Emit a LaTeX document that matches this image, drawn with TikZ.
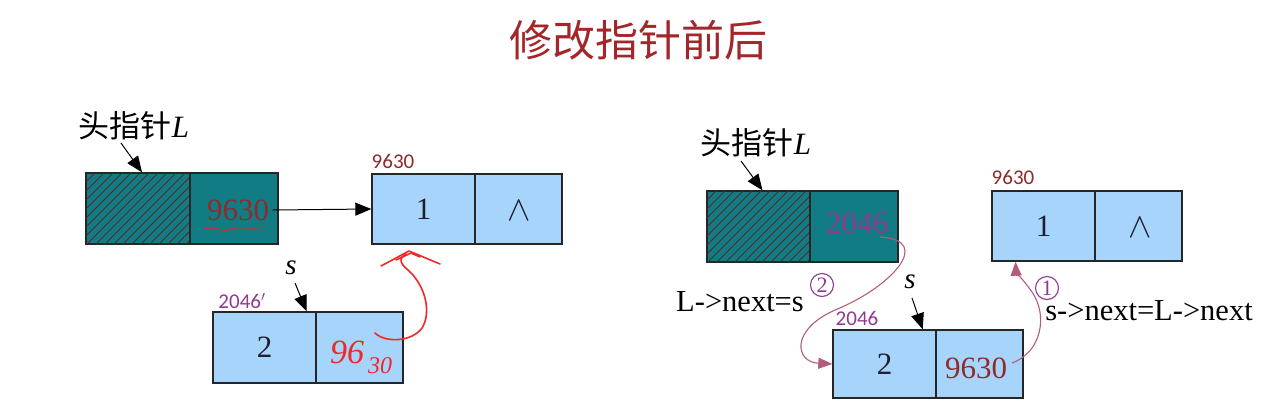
\documentclass[tikz,border=0pt]{standalone}
\usepackage{fontspec}
\setmainfont{Liberation Serif}
\newfontfamily\cjk{Noto Sans CJK SC}
\newfontfamily\lab{Carlito}
\usetikzlibrary{arrows.meta}
\definecolor{teal1}{HTML}{127C85}
\definecolor{lblue}{HTML}{A6D4FA}
\definecolor{dred}{HTML}{8E2B2B}
\definecolor{ttl}{HTML}{A3272A}
\definecolor{purp}{HTML}{903A92}
\definecolor{curv}{HTML}{B45C7E}
\definecolor{hatch}{HTML}{55282A}
\definecolor{inkd}{HTML}{1E1E30}
\definecolor{hand}{HTML}{F02828}
\newcommand{\nilsym}{\scalebox{3.5}{$\wedge$}}
\newcommand{\hatchbox}[1]{%
  \begin{scope}
    \clip (#1.south west) rectangle (#1.north east);
    \foreach \k in {-80,-71,...,110}{
      \draw[hatch,line width=0.8pt] ([xshift=\k pt]#1.south west) -- ++(80pt,80pt);
    }
  \end{scope}
  \draw[draw=black!85,line width=1.4pt] (#1.south west) rectangle (#1.north east);}
\begin{document}
\begin{tikzpicture}[x=1pt,y=-1pt,
  cell/.style={draw=black!85,line width=1.4pt,minimum width=#1,minimum height=70pt,inner sep=0pt,anchor=center},
  cell/.default=103pt,
  headcell/.style={cell=#1,fill=teal1},
  datacell/.style={cell=#1,fill=lblue},
  num/.style={font=\fontsize{31}{31}\selectfont,text=inkd},
  nil/.style={text=inkd,inner sep=0pt},
  addr/.style={font=\lab\fontsize{21}{21}\selectfont},
  ptr/.style={font=\fontsize{31}{31}\selectfont},
  hdl/.style={font=\fontsize{31}{31}\selectfont},
  blk/.style={-{Triangle[width=13pt,length=16pt]},line width=1pt,black},
  curvarr/.style={-{Triangle[width=11pt,length=14pt]},line width=1.1pt,curv},
  handln/.style={hand,line width=1.6pt,line cap=round,line join=round},
  circ/.style={circle,draw=purp,line width=1.1pt,text=purp,inner sep=0.5pt,minimum size=23pt,font=\fontsize{22}{22}\selectfont},
  expr/.style={font=\fontsize{30.5}{30.5}\selectfont,text=black}
]
\useasboundingbox (0,0) rectangle (1286,408);
\fill[white] (0,0) rectangle (1286,408);

% title
\node[font=\cjk\fontsize{43}{43}\selectfont,text=ttl] (title) at (638,40) {修改指针前后};

% ---------------- left: before ----------------
\node[headcell=104pt,minimum height=71pt] (lha) at (138,208.5) {};
\hatchbox{lha}
\node[headcell=88pt,minimum height=71pt] (lhb) at (234,208.5) {};
\node[ptr,text=dred] (lhv) at (238,210) {9630};
\node[hdl] (lhl) at (134,126) {{\cjk 头指针}\textit{L}};
\coordinate (lhs) at (121,143);
\draw[blk] (lhs) -- ([xshift=4pt]lha.north);

\node[datacell=103pt] (l1a) at (423.5,209) {};
\node[datacell=87pt] (l1b) at (518.5,209) {};
\node[num] at (l1a) {1};
\node[nil] at (519,211) {\nilsym};
\node[addr,text=dred] (l1addr) at (393,161) {9630};

\draw[blk] (lhv.east) -- (l1a.west);

\node[datacell=103pt,minimum height=71pt] (l2a) at (264.5,347.5) {};
\node[datacell=87pt,minimum height=71pt] (l2b) at (359.5,347.5) {};
\node[num] at (l2a) {2};
\node[addr,text=purp] (l2addr) at (242,301) {2046$^{\prime}$};
\node[font=\itshape\fontsize{29}{29}\selectfont] (l2s) at (291,268) {s};
\coordinate (l2ss) at (295,283);
\draw[blk] (l2ss) -- ([xshift=-10pt]l2a.north east);

% handwritten red marks
\node[text=hand,font=\itshape\fontsize{34}{34}\selectfont] (hw1) at (347,352) {96};
\node[text=hand,font=\itshape\fontsize{24}{24}\selectfont] (hw2) at (380,366) {30};
\draw[handln] (375,333) .. controls (385,343) and (412,342) .. (422,328)
   .. controls (432,312) and (425,285) .. (408,270)
   .. controls (398,262) and (400,257) .. (406,254);
\draw[handln] (381,266) -- (409,251) -- (440,264);
\draw[handln] (396,260) -- (411,253) -- (420,257);
\draw[hand!80!dred,line width=1.1pt] (205,229) .. controls (215,225) and (220,233) .. (231,229)
   .. controls (241,226) and (251,230) .. (264,227);

% ---------------- right: after ----------------
\node[headcell=103pt,minimum height=71pt] (rha) at (758.5,226.5) {};
\hatchbox{rha}
\node[headcell=88pt,minimum height=71pt] (rhb) at (854,226.5) {};
\node[ptr,text=purp] (rhv) at (857,223) {2046};
\node[hdl] (rhl) at (756,143) {{\cjk 头指针}\textit{L}};
\coordinate (rhs) at (741,161);
\draw[blk] (rhs) -- ([xshift=4pt]rha.north);

\node[datacell=103pt] (r1a) at (1043.5,226) {};
\node[datacell=87pt] (r1b) at (1138.5,226) {};
\node[num] at (r1a) {1};
\node[nil] at (1140,228) {\nilsym};
\node[addr,text=dred] (r1addr) at (1013,177) {9630};

\node[datacell=103pt,minimum height=68pt] (r2a) at (884.5,364) {};
\node[datacell=87pt,minimum height=68pt] (r2b) at (979.5,364) {};
\node[num] at (r2a) {2};
\node[ptr,text=dred] (r2v) at (976,368) {9630};
\node[addr,text=purp] (r2addr) at (857,318) {2046};
\node[font=\itshape\fontsize{29}{29}\selectfont] (r2s) at (910,282) {s};
\coordinate (r2ss) at (912,298);
\draw[blk] (r2ss) -- ([xshift=-14pt]r2a.north east);

% step 2: L->next = s
\coordinate (c2s) at (880,237);
\draw[curvarr] (c2s) .. controls (935,240) and (890,288) .. (835,310)
   .. controls (790,330) and (795,362) .. (r2a.west);
\node[expr] (e2) at (740,302) {L-{\textgreater}next=s};
\node[circ] (k2) at (822,285) {2};

% step 1: s->next = L->next
\coordinate (c1s) at (1012,363);
\draw[curvarr] (c1s) .. controls (1042,352) and (1048,315) .. (1032,292)
   .. controls (1022,278) and (1016,272) .. ([xshift=-28pt]r1a.south);
\node[circ] (k1) at (1047,288) {1};
\node[expr] (e1) at (1149,311) {s-{\textgreater}next=L-{\textgreater}next};
\end{tikzpicture}
\end{document}
